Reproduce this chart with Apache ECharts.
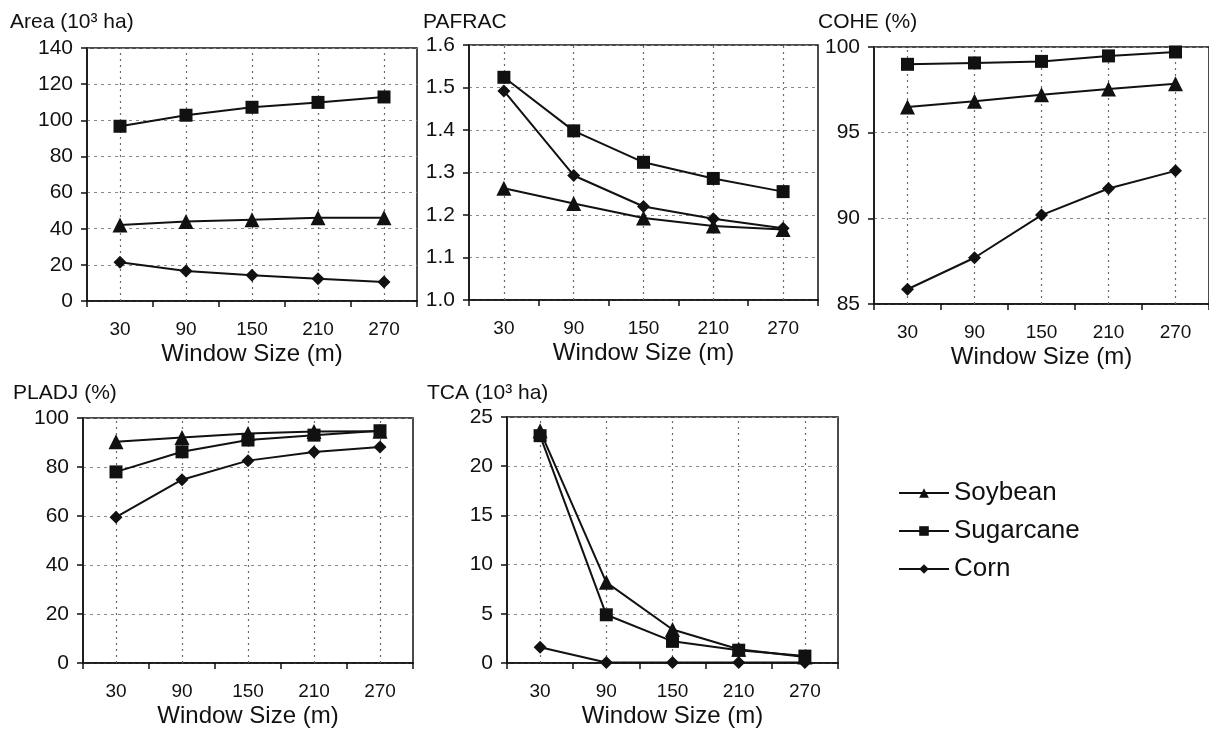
<!DOCTYPE html>
<html><head><meta charset="utf-8">
<script src="https://cdn.jsdelivr.net/npm/echarts@6/dist/echarts.min.js"></script>
<style>html,body{margin:0;padding:0;background:#fff}#c{width:1209px;height:731px}</style>
</head><body><div id="c"></div>
<script>
// ---------- data ----------
const windowSizes = ['30', '90', '150', '210', '270'];
const cropNames = ['Soybean', 'Sugarcane', 'Corn'];

const areaSoybean   = [42, 44, 45, 46, 46];
const areaSugarcane = [96.7, 102.8, 107.2, 109.9, 112.9];
const areaCorn      = [21.5, 16.6, 14.2, 12.3, 10.5];

const pafracSoybean   = [1.263, 1.227, 1.193, 1.174, 1.166];
const pafracSugarcane = [1.524, 1.398, 1.324, 1.286, 1.255];
const pafracCorn      = [1.492, 1.293, 1.220, 1.191, 1.169];

const coheSoybean   = [96.5, 96.83, 97.22, 97.55, 97.85];
const coheSugarcane = [98.99, 99.07, 99.16, 99.48, 99.71];
const coheCorn      = [85.86, 87.70, 90.19, 91.74, 92.77];

const pladjSoybean   = [90.3, 92.0, 93.7, 94.5, 94.6];
const pladjSugarcane = [78.0, 86.2, 91.0, 93.0, 94.8];
const pladjCorn      = [59.5, 74.8, 82.6, 86.1, 88.2];

const tcaSoybean   = [23.6, 8.2, 3.4, 1.4, 0.6];
const tcaSugarcane = [23.1, 4.9, 2.2, 1.3, 0.7];
const tcaCorn      = [1.6, 0.05, 0.05, 0.05, 0.05];

const areaTicks   = {min: 0, max: 140, interval: 20};
const pafracTicks = {min: 1.0, max: 1.6, interval: 0.1};
const coheTicks   = {min: 85, max: 100, interval: 5};
const pladjTicks  = {min: 0, max: 100, interval: 20};
const tcaTicks    = {min: 0, max: 25, interval: 5};

const panelTitles = ['Area (10³ ha)', 'PAFRAC', 'COHE (%)', 'PLADJ (%)', 'TCA (10³ ha)'];
const xAxisName = 'Window Size (m)';

// ---------- layout ----------
const panels = [
  {title: panelTitles[0], ticks: areaTicks, data: [areaSoybean, areaSugarcane, areaCorn],
   grid: {left: 87, top: 48, width: 330, height: 253}, tl: [10, 12], dec: 0},
  {title: panelTitles[1], ticks: pafracTicks, data: [pafracSoybean, pafracSugarcane, pafracCorn],
   grid: {left: 469, top: 45, width: 349, height: 255}, tl: [423, 12], dec: 1},
  {title: panelTitles[2], ticks: coheTicks, data: [coheSoybean, coheSugarcane, coheCorn],
   grid: {left: 874, top: 47, width: 340, height: 257}, tl: [818, 12], dec: 0},
  {title: panelTitles[3], ticks: pladjTicks, data: [pladjSoybean, pladjSugarcane, pladjCorn],
   grid: {left: 83, top: 418, width: 330, height: 245}, tl: [13, 383], dec: 0},
  {title: panelTitles[4], ticks: tcaTicks, data: [tcaSoybean, tcaSugarcane, tcaCorn],
   grid: {left: 507, top: 417, width: 331, height: 246}, tl: [427, 383], dec: 0}
];

const symbols = {Soybean: 'triangle', Sugarcane: 'rect', Corn: 'diamond'};
const symbolSizes = {Soybean: 15, Sugarcane: 13, Corn: 13};
const INK = '#111';
const FONT = 'Liberation Sans, Arial, sans-serif';

const option = {
  animation: false,
  backgroundColor: '#fff',
  textStyle: {fontFamily: FONT, color: INK},
  title: panels.map(p => ({
    text: p.title, left: p.tl[0], top: p.tl[1], padding: 0,
    textStyle: {fontFamily: FONT, fontSize: 21, fontWeight: 'normal', color: INK}
  })),
  legend: {
    orient: 'vertical', left: 893, top: 475, itemWidth: 50, itemHeight: 12, itemGap: 12,
    data: cropNames,
    textStyle: {fontFamily: FONT, fontSize: 26, color: INK}
  },
  grid: panels.map(p => Object.assign({show: true, borderColor: INK, borderWidth: 1.5,
    backgroundColor: 'transparent', containLabel: false}, p.grid)),
  xAxis: panels.map((p, i) => ({
    type: 'category', gridIndex: i, data: windowSizes, boundaryGap: true,
    axisLine: {lineStyle: {color: INK, width: 1.5}},
    axisTick: {show: true, length: 6, lineStyle: {color: INK, width: 1.5}},
    axisLabel: {fontFamily: FONT, fontSize: 19, color: INK, margin: 19},
    splitLine: {show: false},
    name: xAxisName, nameLocation: 'middle', nameGap: 41,
    nameTextStyle: {fontFamily: FONT, fontSize: 24, color: INK}
  })),
  yAxis: panels.map((p, i) => ({
    type: 'value', gridIndex: i, min: p.ticks.min, max: p.ticks.max, interval: p.ticks.interval,
    axisLine: {show: true, lineStyle: {color: INK, width: 1.5}},
    axisTick: {show: true, length: 6, lineStyle: {color: INK, width: 1.5}},
    axisLabel: {fontFamily: FONT, fontSize: 21, color: INK, margin: 14,
      formatter: v => v.toFixed(p.dec)},
    splitLine: {show: true, lineStyle: {color: '#8a8a8a', width: 1, type: [3, 4]}}
  })),
  series: []
};

panels.forEach((p, i) => {
  cropNames.forEach((name, k) => {
    const s = {
      type: 'line', name: name, xAxisIndex: i, yAxisIndex: i,
      data: p.data[k],
      symbol: symbols[name], symbolSize: symbolSizes[name],
      lineStyle: {color: INK, width: 2},
      itemStyle: {color: INK},
      z: 3
    };
    if (k === 0) {
      s.markLine = {
        silent: true, symbol: ['none', 'none'], label: {show: false}, z: 1,
        lineStyle: {color: '#6a6a6a', width: 1.2, type: [2, 4]},
        emphasis: {disabled: true},
        data: windowSizes.map(c => ({xAxis: c}))
      };
    }
    option.series.push(s);
  });
});

echarts.init(document.getElementById('c'), null, {renderer: 'canvas'}).setOption(option);
</script>
</body></html>
